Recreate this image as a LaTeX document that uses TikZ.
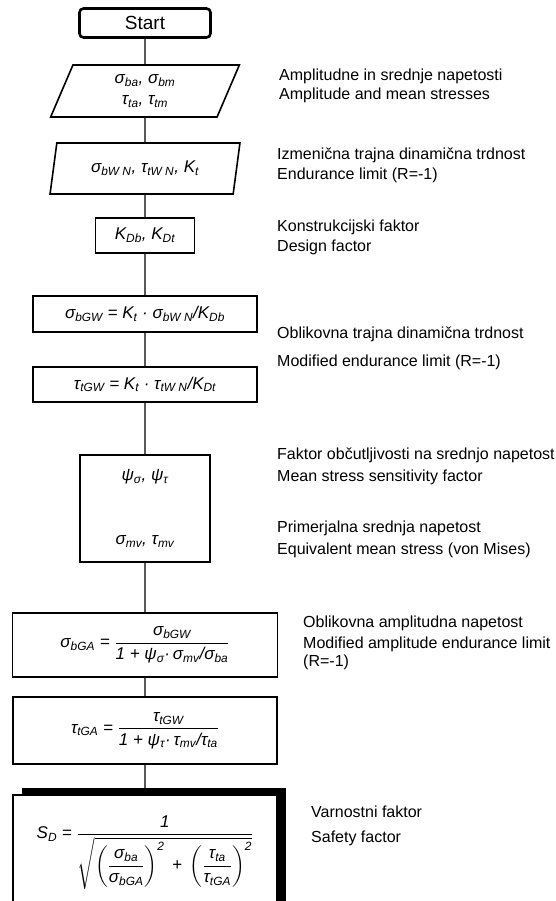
\documentclass[tikz,border=0pt]{standalone}
\usepackage{amsmath}
\usepackage{fontspec}
\setmainfont{Liberation Sans}
\usepackage{tikz}
\usetikzlibrary{shapes.geometric,shadows,positioning}
\newcommand\vr[2]{#1\textsubscript{#2}}
\newcommand\sq{\mbox{\fontsize{12}{12}\selectfont\itshape 2}}

\begin{document}
\begin{tikzpicture}[x=1pt, y=-1pt,
    flow/.style={draw, line width=1.6pt, fill=white, inner sep=0pt, align=center, font=\fontsize{17}{21}\selectfont\itshape},
    inbox/.style={flow, trapezium, trapezium left angle=74, trapezium right angle=106, trapezium stretches=true, minimum width=190pt, minimum height=52pt},
    calcbox/.style={flow, rectangle},
    remark/.style={anchor=west, align=left, inner sep=0pt, font=\fontsize{16}{20}\selectfont},
    link/.style={line width=1.3pt}]
    \useasboundingbox (0,0) rectangle (555,901);

    \node [draw, rounded corners=4pt, line width=2.6pt, minimum width=131pt, minimum height=29pt, font=\fontsize{19}{21}\selectfont] (start) at (145,23) {Start};
    \node [inbox] (in1) at (145,91) {\vr{σ}{ba}, \vr{σ}{bm}\\\vr{τ}{ta}, \vr{τ}{tm}};
    \node [inbox, minimum height=51pt] (in2) at (145,168.5) {\vr{σ}{bW N}, \vr{τ}{tW N}, \vr{K}{t}};
    \node [calcbox, minimum width=99pt, minimum height=35pt] (kd) at (145,235.5) {\vr{K}{Db}, \vr{K}{Dt}};
    \node [calcbox, minimum width=224pt, minimum height=36pt] (gwb) at (145,314) {\vr{σ}{bGW} = \vr{K}{t} · \vr{σ}{bW N}/\vr{K}{Db}};
    \node [calcbox, minimum width=224pt, minimum height=35pt] (gwt) at (145,384.5) {\vr{τ}{tGW} = \vr{K}{t} · \vr{τ}{tW N}/\vr{K}{Dt}};
    \node [calcbox, minimum width=130pt, minimum height=107pt] (psi) at (145,508.5) {\vr{ψ}{σ}, \vr{ψ}{τ}\\[43pt]\vr{σ}{mv}, \vr{τ}{mv}};
    \node [calcbox, minimum width=265pt, minimum height=64pt] (gab) at (145,645) {$\mbox{\vr{σ}{bGA} = }\dfrac{\mbox{\vr{σ}{bGW}}}{\mbox{1 + \vr{ψ}{σ}·\,\vr{σ}{mv}/\vr{σ}{ba}}}$};
    \node [calcbox, minimum width=264pt, minimum height=67pt] (gat) at (145,730.5) {$\mbox{\vr{τ}{tGA} = }\dfrac{\mbox{\vr{τ}{tGW}}}{\mbox{1 + \vr{ψ}{τ}·\,\vr{τ}{mv}/\vr{τ}{ta}}}$};
    \node [calcbox, minimum width=264pt, minimum height=115pt, drop shadow={shadow xshift=9pt, shadow yshift=7pt, opacity=1, fill=black}] (sd) at (145,852.5) {$\mbox{\vr{S}{D} = }\dfrac{\mbox{1}}{\sqrt{\left(\dfrac{\mbox{\vr{σ}{ba}}}{\mbox{\vr{σ}{bGA}}}\right)^{\sq}\mbox{ + }\left(\dfrac{\mbox{\vr{τ}{ta}}}{\mbox{\vr{τ}{tGA}}}\right)^{\sq}}}$};

    \draw [link] (start) -- (in1) (in1) -- (in2) (in2) -- (kd) (kd) -- (gwb) (gwb) -- (gwt)
        (gwt) -- (psi) (psi) -- (gab) (gab) -- (gat) (gat) -- (sd);

    \node [remark] (amp) at (279,85.5) {Amplitudne in srednje napetosti\\[-1pt]Amplitude and mean stresses};
    \node [remark] (end) at (277,165) {Izmenična trajna dinamična trdnost\\Endurance limit (R=-1)};
    \node [remark] (des) at (277,237) {Konstrukcijski faktor\\Design factor};
    \node [remark] (mod) at (277,348) {Oblikovna trajna dinamična trdnost\\[8pt]Modified endurance limit (R=-1)};
    \node [remark] (sens) at (277,466) {Faktor občutljivosti na srednjo napetost\\[2pt]Mean stress sensitivity factor};
    \node [remark] (eqv) at (277,539) {Primerjalna srednja napetost\\[2pt]Equivalent mean stress (von Mises)};
    \node [remark] (ampl) at (303,643) {Oblikovna amplitudna napetost\\[1pt]Modified amplitude endurance limit\\[-2pt](R=-1)};
    \node [remark] (safe) at (311,825.5) {Varnostni faktor\\[5pt]Safety factor};
\end{tikzpicture}
\end{document}
